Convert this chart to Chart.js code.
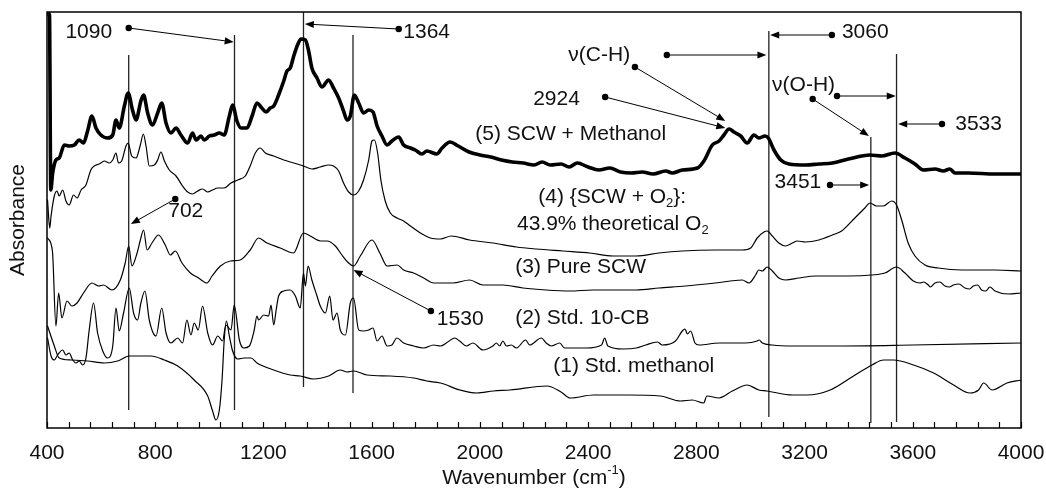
<!DOCTYPE html>
<html>
<head>
<meta charset="utf-8">
<script src="https://cdn.jsdelivr.net/npm/chart.js@4.4.1/dist/chart.umd.min.js"></script>
<style>
  html, body { margin: 0; padding: 0; background: #fff; }
  canvas { display: block; }
</style>
</head>
<body>
<canvas id="ftir" width="1046" height="492"></canvas>
<script>
// wavenumber (cm-1) / absorbance (a.u., offset traces)
const wn5 = [403,409,414,421,433,445,464,482,501,519,
  535,550,566,581,599,624,643,655,667,686,
  700,716,729,747,757,772,790,809,824,840,
  858,877,895,920,938,951,969,981,1000,1018,
  1037,1055,1074,1086,1102,1117,1139,1158,1176,1194,
  1210,1225,1238,1256,1275,1287,1299,1312,1326,1339,
  1355,1367,1379,1398,1416,1441,1459,1478,1496,1509,
  1521,1536,1552,1570,1589,1605,1620,1638,1657,1675,
  1700,1718,1743,1761,1786,1804,1841,1860,1890,1920,
  1960,2000,2040,2080,2120,2160,2200,2230,2260,2300,
  2330,2360,2400,2440,2480,2520,2560,2600,2640,2687,
  2711,2748,2804,2828,2859,2884,2902,2921,2939,2964,
  2988,3013,3031,3054,3066,3087,3112,3142,3204,3253,
  3303,3362,3442,3485,3534,3571,3608,3639,3682,3713,
  3737,3756,3805,3904,4000];
const ab5 = [414,414,238,255,268,270,283,282,283,288,
  285,297,312,300,293,290,293,308,300,322,
  335,318,308,327,333,315,303,315,325,305,
  295,300,293,285,295,288,292,288,292,293,
  295,293,312,323,307,300,300,312,325,320,
  316,320,322,333,347,357,360,372,383,389,
  388,377,360,350,341,348,340,330,317,308,
  312,333,325,315,318,316,302,292,283,287,
  291,283,280,278,274,277,274,280,286,282,
  276,273,271,268,266,265,263,266,263,264,
  261,265,261,258,260,256,255,256,254,257,
  255,258,260,267,283,287,293,299,296,292,
  285,293,290,292,290,278,268,264,263,264,
  265,269,273,272,275,270,264,258,259,257,
  259,255,255,254,254];

const wn4 = [402,410,415,427,437,445,458,470,482,498,
  511,526,544,562,575,593,612,630,643,655,
  664,676,692,700,713,729,745,756,766,778,
  797,809,821,834,852,877,901,920,938,957,
  975,994,1012,1031,1055,1080,1105,1133,1151,1170,
  1188,1207,1238,1275,1312,1348,1379,1410,1441,1459,
  1478,1496,1515,1533,1552,1570,1589,1601,1610,1622,
  1634,1650,1669,1694,1718,1743,1780,1817,1854,1894,
  1962,2048,2135,2209,2307,2406,2492,2578,2662,2748,
  2871,2970,3001,3025,3050,3062,3081,3105,3130,3155,
  3173,3204,3253,3303,3337,3386,3423,3442,3466,3491,
  3522,3540,3559,3583,3608,3645,3694,3781,3904,4000];
const ab4 = [228,200,212,232,237,232,238,227,223,233,
  230,238,243,258,262,264,267,265,268,275,
  265,267,282,285,272,270,283,294,282,262,
  263,268,276,267,258,252,242,236,234,237,
  239,236,238,240,240,245,248,252,262,275,
  280,275,272,268,265,262,259,261,263,262,
  257,245,236,233,237,248,268,287,288,275,
  248,227,215,210,207,202,195,190,189,192,
  188,185,181,179,177,175,172,172,175,177,
  178,178,180,190,196,197,192,185,182,185,
  187,186,188,193,197,210,220,225,222,222,
  227,223,208,185,172,163,160,158,158,157];

const wn3 = [402,420,433,443,455,474,492,511,535,566,
  591,609,640,671,689,702,714,733,745,757,
  770,788,812,837,856,874,899,930,960,991,
  1010,1041,1078,1114,1151,1182,1213,1262,1311,1348,
  1373,1410,1435,1466,1490,1515,1533,1558,1601,1632,
  1657,1694,1718,1755,1792,1829,1900,1962,2011,2085,
  2159,2245,2332,2418,2504,2578,2662,2760,2871,2970,
  2995,3019,3031,3044,3062,3081,3105,3130,3179,3241,
  3303,3362,3448,3497,3540,3571,3602,3627,3640,3657,
  3665,3682,3700,3719,3735,3750,3770,3793,3810,3824,
  3840,3854,3870,3885,3904,3953,4000];
const ab3 = [190,177,102,135,110,127,122,125,135,145,
  142,143,138,148,165,182,162,175,188,198,
  178,185,193,183,173,177,165,155,150,145,
  152,162,167,168,178,190,185,180,175,195,
  192,187,187,182,173,165,162,172,188,174,
  162,163,158,155,150,145,145,148,143,143,
  140,138,137,138,138,138,140,142,145,148,
  145,153,158,157,161,157,150,148,150,152,
  152,152,153,155,161,155,147,145,146,143,
  141,145,146,142,141,143,144,140,139,142,
  143,138,137,141,137,134,135];

const wn2 = [402,415,427,439,458,470,482,495,507,519,
  532,544,556,572,587,606,624,643,655,667,
  683,704,720,735,747,762,778,803,824,840,
  858,883,901,917,932,944,959,975,994,1012,
  1031,1049,1061,1080,1092,1111,1127,1148,1166,1176,
  1182,1201,1219,1228,1238,1247,1256,1275,1299,1318,
  1336,1348,1355,1365,1379,1398,1410,1429,1445,1457,
  1472,1484,1503,1521,1533,1552,1570,1589,1605,1620,
  1638,1657,1675,1693,1718,1755,1792,1829,1854,1876,
  1907,1925,1950,1974,2011,2048,2061,2073,2085,2098,
  2116,2135,2169,2184,2227,2245,2264,2295,2313,2393,
  2450,2461,2473,2529,2578,2613,2656,2674,2723,2748,
  2758,2767,2779,2795,2810,2884,2982,3025,3032,3044,
  3081,3155,3303,3600,4000];
const ab2 = [90,72,68,73,78,73,75,68,65,67,
  63,70,98,125,95,77,70,82,120,97,
  115,140,115,108,125,137,108,92,120,95,
  85,90,85,108,93,105,98,122,95,83,
  92,87,103,98,123,88,80,82,98,112,
  108,113,112,123,103,118,132,137,138,132,
  120,155,142,162,148,132,122,115,132,108,
  115,98,93,125,130,98,97,98,100,87,
  92,82,83,90,85,82,80,83,82,85,
  90,87,82,85,78,82,85,82,87,82,
  83,80,88,83,90,85,82,85,80,80,
  83,90,82,79,80,83,86,83,87,97,
  99,94,97,85,83,85,85,87,88,85,
  83,82,82,83,85];

const wn1 = [402,427,445,489,550,612,661,704,784,834,
  883,944,994,1012,1024,1037,1047,1055,1063,1074,
  1086,1105,1129,1154,1176,1238,1299,1336,1385,1441,
  1484,1509,1533,1583,1669,1755,1804,1854,1927,1989,
  2050,2112,2248,2300,2334,2420,2544,2667,2741,2785,
  2827,2839,2884,2933,2988,3031,3061,3155,3209,3295,
  3381,3449,3492,3529,3603,3677,3751,3812,3843,3862,
  3893,3948,4000];
const ab1 = [102,82,70,68,67,65,67,72,72,68,
  62,48,32,17,8,18,48,88,107,92,
  77,69,70,70,65,58,53,52,49,52,
  58,56,57,53,52,50,47,45,38,35,
  37,38,42,36,30,33,33,32,27,28,
  25,32,30,37,43,38,37,33,33,38,
  52,63,68,68,63,55,43,35,38,45,
  38,45,48];

// band marker lines: position, top and bottom (absorbance units)
const markerWn = [702, 1093, 1348, 1531, 3068, 3445, 3540];
const markerTop = [373, 393, 416, 393, 397, 291, 374];
const markerBottom = [18, 18, 41, 35, 11, 5, 6];

// peak labels
const peakText = ['1090', '1364', '702', '1530', 'ν(C-H)', '2924', '3060', 'ν(O-H)', '3533', '3451'];
const peakWn = [468, 1717, 848, 1841, 2327, 2197, 3338, 3080, 3757, 3089];
const peakAb = [396, 396, 217, 109, 373, 329, 396, 343, 304, 246];

// leader arrows: dot -> arrow head
const arrowFromWn = [702, 1700, 874, 1819, 2691, 2573, 2463, 3301, 3320, 3230, 3708, 3294];
const arrowFromAb = [400, 399, 229, 117, 373, 361, 331, 393, 332, 329, 304, 243];
const arrowToWn = [1090, 1353, 710, 1533, 3059, 2907, 2907, 3073, 3537, 3438, 3546, 3439];
const arrowToAb = [386, 404, 204, 158, 373, 307, 300, 393, 332, 292, 304, 243];

// trace names (nested array = subscript)
const seriesText = [
  ['(5) SCW + Methanol'],
  ['(4) {SCW + O', ['2'], '}:'],
  ['43.9% theoretical O', ['2']],
  ['(3) Pure SCW'],
  ['(2) Std. 10-CB'],
  ['(1) Std. methanol']
];
const seriesWn = [1983, 2216, 2137, 2131, 2131, 2271];
const seriesAb = [294, 231, 204, 161, 110, 62];

const minorStep = 80;
const FONT = '"Liberation Sans", Arial, sans-serif';

const toXY = (xs, ys) => xs.map((v, i) => ({ x: v, y: ys[i] }));

const traces = [
  { label: '(1) Std. methanol', data: toXY(wn1, ab1), borderWidth: 1.2 },
  { label: '(2) Std. 10-CB', data: toXY(wn2, ab2), borderWidth: 1.2 },
  { label: '(3) Pure SCW', data: toXY(wn3, ab3), borderWidth: 1.2 },
  { label: '(4) SCW + O2', data: toXY(wn4, ab4), borderWidth: 1.2 },
  { label: '(5) SCW + Methanol', data: toXY(wn5, ab5), borderWidth: 3.6 }
].map(d => Object.assign(d, {
  borderColor: '#000',
  pointRadius: 0,
  fill: false,
  cubicInterpolationMode: 'monotone',
  borderJoinStyle: 'round',
  borderCapStyle: 'round'
}));

const markers = markerWn.map((w, i) => ({
  label: 'marker ' + w,
  data: [{ x: w, y: markerTop[i] }, { x: w, y: markerBottom[i] }],
  borderColor: '#222',
  borderWidth: 1.3,
  pointRadius: 0
}));

function drawRich(ctx, parts, x, y, size) {
  let cx = x;
  parts.forEach(p => {
    if (Array.isArray(p)) {
      ctx.font = Math.round(size * 0.62) + 'px ' + FONT;
      ctx.fillText(p[0], cx, y + size * 0.3);
      cx += ctx.measureText(p[0]).width;
    } else {
      ctx.font = size + 'px ' + FONT;
      ctx.fillText(p, cx, y);
      cx += ctx.measureText(p).width;
    }
  });
}

const overlay = {
  id: 'overlay',
  afterDatasetsDraw(chart) {
    const { ctx, chartArea: a, scales: { x, y } } = chart;
    ctx.save();
    ctx.strokeStyle = '#000';
    ctx.fillStyle = '#000';

    // frame
    ctx.lineWidth = 1.5;
    ctx.strokeRect(a.left, a.top, a.right - a.left, a.bottom - a.top);

    // inward tick marks
    ctx.lineWidth = 1.2;
    ctx.beginPath();
    for (let v = x.min; v <= x.max; v += minorStep) {
      const px = Math.round(x.getPixelForValue(v)) + 0.5;
      ctx.moveTo(px, a.bottom);
      ctx.lineTo(px, a.bottom - 6);
    }
    ctx.stroke();

    // leader arrows
    ctx.lineWidth = 1;
    arrowFromWn.forEach((w, i) => {
      const x0 = x.getPixelForValue(w), y0 = y.getPixelForValue(arrowFromAb[i]);
      const x1 = x.getPixelForValue(arrowToWn[i]), y1 = y.getPixelForValue(arrowToAb[i]);
      const ang = Math.atan2(y1 - y0, x1 - x0);
      ctx.beginPath();
      ctx.arc(x0, y0, 3.2, 0, Math.PI * 2);
      ctx.fill();
      ctx.beginPath();
      ctx.moveTo(x0, y0);
      ctx.lineTo(x1 - 8 * Math.cos(ang), y1 - 8 * Math.sin(ang));
      ctx.stroke();
      ctx.beginPath();
      ctx.moveTo(x1, y1);
      ctx.lineTo(x1 - 9 * Math.cos(ang) + 3.6 * Math.sin(ang), y1 - 9 * Math.sin(ang) - 3.6 * Math.cos(ang));
      ctx.lineTo(x1 - 9 * Math.cos(ang) - 3.6 * Math.sin(ang), y1 - 9 * Math.sin(ang) + 3.6 * Math.cos(ang));
      ctx.closePath();
      ctx.fill();
    });

    // text
    ctx.fillStyle = '#111';
    ctx.textBaseline = 'middle';
    ctx.textAlign = 'left';
    peakText.forEach((t, i) => {
      drawRich(ctx, [t], x.getPixelForValue(peakWn[i]), y.getPixelForValue(peakAb[i]), 21);
    });
    seriesText.forEach((parts, i) => {
      drawRich(ctx, parts, x.getPixelForValue(seriesWn[i]), y.getPixelForValue(seriesAb[i]), 21);
    });

    // x axis title with superscript
    ctx.font = '21px ' + FONT;
    const t1 = 'Wavenumber (cm', t3 = ')';
    const w1 = ctx.measureText(t1).width, w3 = ctx.measureText(t3).width;
    ctx.font = '13px ' + FONT;
    const w2 = ctx.measureText('-1').width;
    const cx = (a.left + a.right) / 2 - (w1 + w2 + w3) / 2;
    const ty = a.bottom + 50;
    ctx.font = '21px ' + FONT;
    ctx.fillText(t1, cx, ty);
    ctx.fillText(t3, cx + w1 + w2, ty);
    ctx.font = '13px ' + FONT;
    ctx.fillText('-1', cx + w1, ty - 8);
    ctx.restore();
  }
};

new Chart(document.getElementById('ftir'), {
  type: 'line',
  data: { datasets: traces.concat(markers) },
  plugins: [overlay],
  options: {
    responsive: false,
    animation: false,
    devicePixelRatio: 1,
    layout: { padding: { top: 12, right: 25, left: 0, bottom: 0 } },
    plugins: { legend: { display: false }, tooltip: { enabled: false } },
    elements: { line: { tension: 0 } },
    scales: {
      x: {
        type: 'linear',
        min: 400,
        max: 4000,
        afterFit: s => { s.height = 64; },
        grid: { display: false, drawTicks: true, tickLength: 13 },
        border: { display: false },
        ticks: {
          stepSize: 400,
          padding: 0,
          autoSkip: false,
          maxRotation: 0,
          color: '#111',
          font: { family: FONT, size: 21 },
          callback: v => String(v)
        }
      },
      y: {
        min: 0,
        max: 416,
        afterFit: s => { s.width = 47; },
        grid: { display: false, drawTicks: false },
        border: { display: false },
        ticks: { display: false },
        title: {
          display: true,
          text: 'Absorbance',
          color: '#111',
          font: { family: FONT, size: 21 },
          padding: { top: 6, bottom: 0 }
        }
      }
    }
  }
});
</script>
</body>
</html>
